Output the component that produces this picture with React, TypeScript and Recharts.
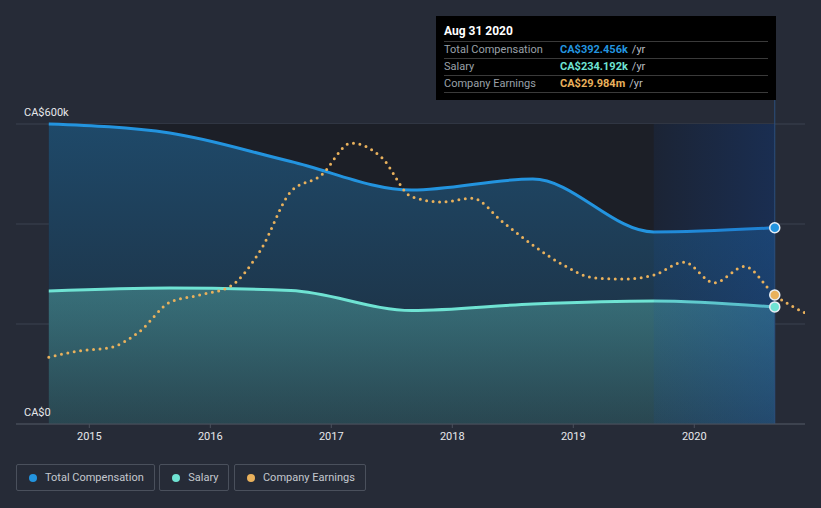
import React from 'react';
import {
  ComposedChart,
  Area,
  Line,
  XAxis,
  YAxis,
  CartesianGrid,
  ReferenceArea,
  ReferenceLine,
} from 'recharts';

// Fiscal year-end dates (decimal years) for compensation
const compDates = [2014.665, 2015.665, 2016.665, 2017.665, 2018.665, 2019.665, 2020.665];
// Total compensation, CA$ thousands
const totalComp = [600, 582, 525, 468, 490, 384, 392.456];
// Salary, CA$ thousands
const salary = [266, 272, 267, 227, 240, 246, 234.192];

// Quarterly dates for company earnings
const earnDates = [
  2014.665, 2014.915, 2015.165, 2015.415, 2015.665, 2015.915, 2016.165, 2016.415,
  2016.665, 2016.915, 2017.165, 2017.415, 2017.665, 2017.915, 2018.165, 2018.415,
  2018.665, 2018.915, 2019.165, 2019.415, 2019.665, 2019.915, 2020.165, 2020.415,
  2020.665, 2020.915,
];
// Company earnings, CA$ millions
const earnings = [
  15.5, 17.0, 17.7, 21.5, 28.3, 30.0, 32.0, 40.4,
  54.0, 57.8, 65.3, 62.0, 52.8, 51.6, 52.5, 47.0,
  41.6, 37.0, 34.0, 33.7, 34.6, 37.6, 32.8, 36.6,
  29.984, 25.8,
];

const yearTicks = [2015, 2016, 2017, 2018, 2019, 2020];
const yTicks = [0, 200, 400, 600];
const yLabels: Record<number, string> = { 0: 'CA$0', 600: 'CA$600k' };
const xDomain = [2014.394, 2020.915];
const earnDomain = [0, 69.73];
const pastStart = 2014.665;
const highlightStart = 2019.665;
const lastDate = 2020.665;

const tooltipTitle = 'Aug 31 2020';
const tooltipRows = [
  { label: 'Total Compensation', value: 'CA$392.456k', color: '#2394df' },
  { label: 'Salary', value: 'CA$234.192k', color: '#6fe3d3' },
  { label: 'Company Earnings', value: 'CA$29.984m', color: '#e9b15c' },
];
const legendItems = [
  { label: 'Total Compensation', color: '#2394df' },
  { label: 'Salary', color: '#6fe3d3' },
  { label: 'Company Earnings', color: '#e9b15c' },
];

type Row = { x: number; total?: number; salary?: number; earnings?: number };

function buildData(): Row[] {
  const map = new Map<string, Row>();
  const get = (d: number) => {
    const k = d.toFixed(3);
    if (!map.has(k)) map.set(k, { x: d });
    return map.get(k)!;
  };
  compDates.forEach((d, i) => {
    const r = get(d);
    r.total = totalComp[i];
    r.salary = salary[i];
  });
  earnDates.forEach((d, i) => {
    get(d).earnings = earnings[i];
  });
  return Array.from(map.values()).sort((a, b) => a.x - b.x);
}

const data = buildData();

const makeDot = (color: string) => (props: any) => {
  const { cx, cy, payload, index } = props;
  if (payload && Math.abs(payload.x - lastDate) < 1e-6 && cx != null && cy != null) {
    return <circle key={`d-${index}`} cx={cx} cy={cy} r={5} fill={color} stroke="#e8eef5" strokeWidth={1.5} />;
  }
  return <g key={`d-${index}`} />;
};

const renderYTick = (props: any) => {
  const { y, payload, index } = props;
  const label = yLabels[payload.value];
  if (!label) return <g key={`yt-${index}`} />;
  return (
    <text key={`yt-${index}`} x={24} y={y - 12} dy="0.35em" fill="#e6e8eb" fontSize={11} textAnchor="start">
      {label}
    </text>
  );
};

export default function App() {
  return (
    <div
      style={{
        position: 'fixed',
        left: 0,
        top: 0,
        width: 821,
        height: 508,
        background: '#262b37',
        fontFamily: 'Roboto, sans-serif',
      }}
    >
      <ComposedChart
        width={821}
        height={508}
        data={data}
        margin={{ top: 124, right: 16, bottom: 54, left: 15 }}
      >
        <defs>
          <linearGradient id="totalGrad" x1="0" y1="0" x2="0" y2="1">
            <stop offset="0%" stopColor="#2394df" stopOpacity={0.36} />
            <stop offset="100%" stopColor="#2394df" stopOpacity={0.1} />
          </linearGradient>
          <linearGradient id="salaryGrad" x1="0" y1="0" x2="0" y2="1">
            <stop offset="0%" stopColor="#6fe3d3" stopOpacity={0.32} />
            <stop offset="100%" stopColor="#6fe3d3" stopOpacity={0.15} />
          </linearGradient>
          <linearGradient id="hlGrad" x1="0" y1="0" x2="1" y2="0">
            <stop offset="0%" stopColor="#1450b4" stopOpacity={0.1} />
            <stop offset="100%" stopColor="#1450b4" stopOpacity={0.3} />
          </linearGradient>
        </defs>
        <ReferenceArea
          yAxisId="left"
          x1={pastStart}
          x2={lastDate}
          y1={0}
          y2={600}
          fill="#1c1f27"
          fillOpacity={1}
          stroke="none"
        />
        <CartesianGrid yAxisId="left" vertical={false} stroke="#3a4250" />
        <XAxis
          dataKey="x"
          type="number"
          domain={xDomain}
          ticks={yearTicks}
          allowDataOverflow
          tickFormatter={(v) => String(Math.round(v))}
          tick={{ fill: '#e6e8eb', fontSize: 11 }}
          tickSize={4}
          tickMargin={4}
          axisLine={{ stroke: '#4a505c' }}
          tickLine={{ stroke: '#4a505c' }}
          height={30}
        />
        <YAxis
          yAxisId="left"
          domain={[0, 600]}
          ticks={yTicks}
          width={1}
          axisLine={false}
          tickLine={false}
          interval={0}
          tick={renderYTick}
        />
        <YAxis yAxisId="earn" orientation="right" domain={earnDomain} hide />
        <Area
          yAxisId="left"
          type="monotone"
          dataKey="total"
          stroke="#2394df"
          strokeWidth={3}
          fill="url(#totalGrad)"
          fillOpacity={1}
          connectNulls
          isAnimationActive={false}
          dot={makeDot('#2394df')}
          activeDot={false}
        />
        <Area
          yAxisId="left"
          type="monotone"
          dataKey="salary"
          stroke="#6fe3d3"
          strokeWidth={3}
          fill="url(#salaryGrad)"
          fillOpacity={1}
          connectNulls
          isAnimationActive={false}
          dot={makeDot('#6fe3d3')}
          activeDot={false}
        />
        <ReferenceArea
          yAxisId="left"
          x1={highlightStart}
          x2={lastDate}
          y1={0}
          y2={600}
          fill="url(#hlGrad)"
          fillOpacity={1}
          stroke="none"
        />
        <Line
          yAxisId="earn"
          type="monotone"
          dataKey="earnings"
          stroke="#e9b15c"
          strokeWidth={3}
          strokeDasharray="0 6.5"
          strokeLinecap="round"
          connectNulls
          isAnimationActive={false}
          dot={makeDot('#e9b15c')}
          activeDot={false}
        />
        <ReferenceLine
          yAxisId="left"
          segment={[
            { x: lastDate, y: 0 },
            { x: lastDate, y: 648 },
          ]}
          ifOverflow="visible"
          stroke="#2b4f7e"
          strokeWidth={1}
        />
      </ComposedChart>

      <div
        style={{
          position: 'absolute',
          left: 436,
          top: 16,
          width: 340,
          height: 84,
          background: '#000000',
          boxSizing: 'border-box',
          padding: '0 8px',
          fontSize: 11,
        }}
      >
        <div
          style={{
            height: 24.5,
            lineHeight: '30px',
            color: '#ffffff',
            fontWeight: 700,
            fontSize: 12,
            borderBottom: '1px solid #3a3a3a',
          }}
        >
          {tooltipTitle}
        </div>
        {tooltipRows.map((r) => (
          <div
            key={r.label}
            style={{
              height: 16,
              lineHeight: '16px',
              borderBottom: '1px solid #3a3a3a',
              display: 'flex',
              whiteSpace: 'nowrap',
            }}
          >
            <span style={{ width: 116, color: '#9aa0a8' }}>{r.label}</span>
            <span style={{ color: r.color, fontWeight: 700 }}>{r.value}</span>
            <span style={{ color: '#b8bcc2', marginLeft: 4 }}>/yr</span>
          </div>
        ))}
      </div>

      <div style={{ position: 'absolute', left: 16, top: 464, display: 'flex', gap: 4.5 }}>
        {legendItems.map((it) => (
          <div
            key={it.label}
            style={{
              height: 27,
              boxSizing: 'border-box',
              border: '1px solid #4a505c',
              borderRadius: 2,
              display: 'flex',
              alignItems: 'center',
              padding: '0 10px 0 12px',
              color: '#c4c8ce',
              fontSize: 11,
            }}
          >
            <span
              style={{
                width: 8,
                height: 8,
                borderRadius: '50%',
                background: it.color,
                display: 'inline-block',
                marginRight: 8,
              }}
            />
            {it.label}
          </div>
        ))}
      </div>
    </div>
  );
}
